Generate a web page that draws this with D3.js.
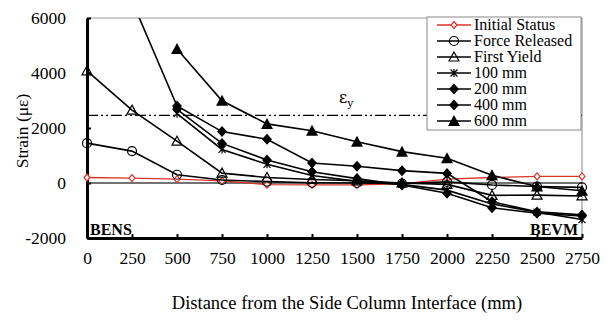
<!DOCTYPE html>
<html>
<head>
<meta charset="utf-8">
<script src="https://cdn.jsdelivr.net/npm/d3@7"></script>
<style>
  body { margin: 0; background: #fff; }
  svg { font-family: "Liberation Serif", "Times New Roman", serif; }
</style>
</head>
<body>
<div id="chart"></div>
<script>
const FRAME_WIDTH = 611;
const FRAME_HEIGHT = 320;
const MARGINS = {left: 87, right: 29, top: 18, bottom: 82};
const VIS_WIDTH = FRAME_WIDTH - MARGINS.left - MARGINS.right;
const VIS_HEIGHT = FRAME_HEIGHT - MARGINS.top - MARGINS.bottom;

// data
const DISTANCES = [0, 250, 500, 750, 1000, 1250, 1500, 1750, 2000, 2250, 2500, 2750];
const X_TICKS = [0, 250, 500, 750, 1000, 1250, 1500, 1750, 2000, 2250, 2500, 2750];
const Y_TICKS = [-2000, 0, 2000, 4000, 6000];
const YIELD_STRAIN = 2460;

const INITIAL_STATUS = [200, 180, 140, 80, -60, -70, -70, -30, 140, 200, 240, 240];
const FORCE_RELEASED = [1450, 1160, 300, 110, 50, 10, 0, -20, 40, -70, -130, -160];
const FIRST_YIELD = [4080, 2650, 1520, 360, 200, 130, 80, 0, -50, -450, -440, -470];
const MM_100 = [null, null, 2520, 1220, 680, 270, 60, -50, -260, -760, -1060, -1330];
const MM_200 = [null, null, 2680, 1440, 840, 410, 160, -70, -370, -900, -1100, -1200];
const MM_400 = [null, 6620, 2800, 1870, 1590, 730, 610, 450, 350, -680, -1050, -1160];
const MM_600 = [null, null, 4870, 2990, 2150, 1900, 1500, 1140, 900, 280, -130, -280];

const SERIES = [
  {name: "Initial Status", values: INITIAL_STATUS, color: "#d9352b", marker: "diamondOpen"},
  {name: "Force Released", values: FORCE_RELEASED, color: "#000", marker: "circleOpen"},
  {name: "First Yield", values: FIRST_YIELD, color: "#000", marker: "triangleOpen"},
  {name: "100 mm", values: MM_100, color: "#000", marker: "asterisk"},
  {name: "200 mm", values: MM_200, color: "#000", marker: "diamond"},
  {name: "400 mm", values: MM_400, color: "#000", marker: "diamond"},
  {name: "600 mm", values: MM_600, color: "#000", marker: "triangle"}
];

const X_SCALE = d3.scaleLinear().domain([0, 2750]).range([0, VIS_WIDTH]);
const Y_SCALE = d3.scaleLinear().domain([-2000, 6000]).range([VIS_HEIGHT, 0]);

const FRAME = d3.select("#chart").append("svg")
    .attr("width", FRAME_WIDTH)
    .attr("height", FRAME_HEIGHT);

FRAME.append("defs").append("clipPath").attr("id", "plotclip")
  .append("rect").attr("x", -8).attr("y", 0).attr("width", VIS_WIDTH + 16).attr("height", VIS_HEIGHT + 8);

const G = FRAME.append("g").attr("transform", "translate(" + MARGINS.left + "," + MARGINS.top + ")");

// frame lines top and right
G.append("line").attr("x1", 0).attr("x2", VIS_WIDTH).attr("y1", Y_SCALE(6000)).attr("y2", Y_SCALE(6000))
  .attr("stroke", "#999").attr("stroke-width", 1.2);
G.append("line").attr("x1", VIS_WIDTH).attr("x2", VIS_WIDTH).attr("y1", 0).attr("y2", VIS_HEIGHT)
  .attr("stroke", "#999").attr("stroke-width", 1.2);

// zero line
G.append("line").attr("x1", 0).attr("x2", VIS_WIDTH).attr("y1", Y_SCALE(0)).attr("y2", Y_SCALE(0))
  .attr("stroke", "#444").attr("stroke-width", 1.5);

// yield strain line
G.append("line").attr("x1", 0).attr("x2", VIS_WIDTH).attr("y1", Y_SCALE(YIELD_STRAIN)).attr("y2", Y_SCALE(YIELD_STRAIN))
  .attr("stroke", "#000").attr("stroke-width", 1.3).attr("stroke-dasharray", "11,3,2,3,2,3");

const epsLabel = G.append("text").attr("x", X_SCALE(1400)).attr("y", Y_SCALE(YIELD_STRAIN) - 12)
  .attr("font-size", 16).attr("font-family", "'DejaVu Serif', serif");
epsLabel.append("tspan").text("ε");
epsLabel.append("tspan").attr("font-size", 11).attr("dy", 4).text("y");

// axes
const xAxis = G.append("g").attr("transform", "translate(0," + VIS_HEIGHT + ")")
  .call(d3.axisBottom(X_SCALE).tickValues(X_TICKS).tickFormat(d => String(d))
    .tickSizeInner(-4).tickSizeOuter(0).tickPadding(14));
const yAxis = G.append("g")
  .call(d3.axisLeft(Y_SCALE).tickValues(Y_TICKS).tickFormat(d => String(d))
    .tickSizeInner(-4).tickSizeOuter(0).tickPadding(21));
[xAxis, yAxis].forEach(a => {
  a.attr("font-size", null).attr("font-family", null);
  a.select(".domain").attr("stroke", "#000").attr("stroke-width", 3);
  a.selectAll(".tick line").attr("stroke", "#000").attr("stroke-width", 2);
  a.selectAll("text").style("font-size", "17.5px").attr("fill", "#000")
    .style("font-family", "'Liberation Serif', serif");
});

// markers
function drawMarker(sel, type, color) {
  if (type === "diamondOpen") {
    sel.append("path").attr("d", "M0,-3.5L3,0L0,3.5L-3,0Z").attr("fill", "#fff").attr("stroke", color).attr("stroke-width", 1.2);
  } else if (type === "circleOpen") {
    sel.append("circle").attr("r", 4.5).attr("fill", "none").attr("stroke", color).attr("stroke-width", 1.2);
  } else if (type === "triangleOpen") {
    sel.append("path").attr("d", "M0,-5L5,4L-5,4Z").attr("fill", "none").attr("stroke", color).attr("stroke-width", 1.2);
  } else if (type === "asterisk") {
    sel.append("path").attr("d", "M-3.5,-3.5L3.5,3.5M-3.5,3.5L3.5,-3.5M0,-4L0,4").attr("stroke", color).attr("stroke-width", 1.2);
  } else if (type === "diamond") {
    sel.append("path").attr("d", "M0,-5.5L5,0L0,5.5L-5,0Z").attr("fill", color);
  } else if (type === "triangle") {
    sel.append("path").attr("d", "M0,-6L6,5L-6,5Z").attr("fill", color);
  }
}

const PLOT = G.append("g").attr("clip-path", "url(#plotclip)");
const line = d3.line()
  .defined(d => d.v !== null)
  .x(d => X_SCALE(d.x))
  .y(d => Y_SCALE(d.v));

SERIES.forEach(s => {
  const pts = DISTANCES.map((x, i) => ({x: x, v: s.values[i]}));
  PLOT.append("path").datum(pts).attr("d", line)
    .attr("fill", "none").attr("stroke", s.color).attr("stroke-width", s.color === "#000" ? 1.6 : 1.3);
  PLOT.selectAll(null).data(pts.filter(p => p.v !== null && p.v <= 6000))
    .enter().append("g")
      .attr("transform", p => "translate(" + X_SCALE(p.x) + "," + Y_SCALE(p.v) + ")")
      .each(function() { drawMarker(d3.select(this), s.marker, s.color); });
});

// end labels
G.append("text").attr("x", 3).attr("y", VIS_HEIGHT - 3).attr("font-size", 16).attr("font-weight", "bold").text("BENS");
G.append("text").attr("x", VIS_WIDTH - 4).attr("y", VIS_HEIGHT - 3).attr("text-anchor", "end")
  .attr("font-size", 16).attr("font-weight", "bold").text("BEVM");

// legend
const LEG_X = 427 - MARGINS.left, LEG_Y = 17 - MARGINS.top;
const legend = G.append("g").attr("transform", "translate(" + LEG_X + "," + LEG_Y + ")");
legend.append("rect").attr("width", 154).attr("height", 113).attr("fill", "#fff").attr("stroke", "#888").attr("stroke-width", 1);
SERIES.forEach((s, i) => {
  const row = legend.append("g").attr("transform", "translate(0," + (8 + i * 16) + ")");
  row.append("line").attr("x1", 10).attr("x2", 44).attr("stroke", s.color).attr("stroke-width", 1.6);
  drawMarker(row.append("g").attr("transform", "translate(27,0)"), s.marker, s.color);
  row.append("text").attr("x", 47).attr("y", 5).attr("font-size", 16).text(s.name);
});

// axis titles
FRAME.append("text").attr("x", 347).attr("y", 309).attr("text-anchor", "middle").attr("font-size", 18.5)
  .text("Distance from the Side Column Interface (mm)");
FRAME.append("text").attr("transform", "translate(28,131) rotate(-90)").attr("text-anchor", "middle")
  .attr("font-size", 17.5).text("Strain (με)");
</script>
</body>
</html>
